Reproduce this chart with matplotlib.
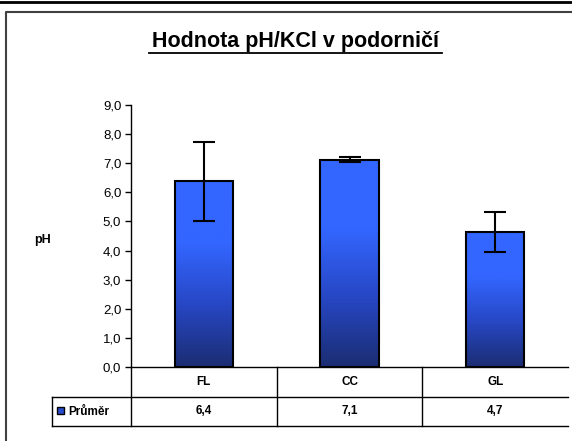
import numpy as np
import matplotlib.pyplot as plt
import matplotlib.transforms as mtransforms
from matplotlib.colors import LinearSegmentedColormap
from matplotlib.patches import Rectangle
from matplotlib.lines import Line2D

plt.rcParams['font.family'] = ['Liberation Sans', 'DejaVu Sans']

# data
categories = ["FL", "CC", "GL"]
means = [6.38, 7.12, 4.65]
errors = [1.35, 0.09, 0.69]
table_values = ["6,4", "7,1", "4,7"]
series_name = "Průměr"
yticks = [0, 1, 2, 3, 4, 5, 6, 7, 8, 9]

W, H = 572, 441
fig = plt.figure(figsize=(W / 100, H / 100), dpi=100)


def fx(x):
    return x / W


def fy(y):
    return 1 - y / H


# pixel layout of the plot area
left, right, top, bottom = 131, 568, 105, 367
ax = fig.add_axes([fx(left), fy(bottom), fx(right - left), (bottom - top) / H])

x = np.arange(len(categories))
width = 0.4
cmap = LinearSegmentedColormap.from_list("bar", ["#1b2d72", "#2747c4", "#3366ff", "#3366ff"])
grad = np.linspace(0, 1, 256).reshape(-1, 1)
for xi, m in zip(x, means):
    ax.imshow(grad, cmap=cmap, aspect="auto", origin="lower",
              extent=[xi - width / 2, xi + width / 2, 0, m], zorder=2)
    ax.add_patch(Rectangle((xi - width / 2, 0), width, m, fill=False,
                           edgecolor="black", linewidth=1.5, zorder=3))
ax.errorbar(x, means, yerr=errors, fmt="none", ecolor="black",
            elinewidth=1.5, capsize=8, capthick=1.5, zorder=4)

ax.set_xlim(-0.5, 2.5)
ax.set_ylim(0, 9)
ax.set_yticks(yticks)
ax.set_yticklabels([f"{v:.1f}".replace(".", ",") for v in yticks], fontsize=9.5)
ax.tick_params(axis="y", length=4, width=1, direction="out", pad=3)
ax.set_xticks([])
for s in ["top", "right", "bottom"]:
    ax.spines[s].set_visible(False)
ax.spines["left"].set_linewidth(1)

# title and y label
fig.text(fx(296), fy(42), "Hodnota pH/KCl v podorničí", ha="center", va="center",
         fontsize=15.5, fontweight="bold")
fig.add_artist(Line2D([fx(149), fx(442)], [fy(52.5), fy(52.5)], color="black", linewidth=1.3))
fig.text(fx(43), fy(240), "pH", ha="center", va="center", fontsize=9, fontweight="bold")

# data table below the plot
row1, row2, row3 = 367, 397, 426
line_kw = dict(color="black", linewidth=1)
fig.add_artist(Line2D([fx(left), fx(right)], [fy(row1), fy(row1)], **line_kw))
fig.add_artist(Line2D([fx(52), fx(right)], [fy(row2), fy(row2)], **line_kw))
fig.add_artist(Line2D([fx(52), fx(right)], [fy(row3), fy(row3)], **line_kw))
fig.add_artist(Line2D([fx(52), fx(52)], [fy(row2), fy(row3)], **line_kw))
fig.add_artist(Line2D([fx(left), fx(left)], [fy(row1), fy(row3)], **line_kw))

blend = mtransforms.blended_transform_factory(ax.transData, fig.transFigure)
for xi in x[:-1] + 0.5:
    ax.add_line(Line2D([xi, xi], [fy(row1), fy(row3)], transform=blend,
                       clip_on=False, **line_kw))
for xi, c, v in zip(x, categories, table_values):
    fig.text(xi, fy((row1 + row2) / 2), c, transform=blend, ha="center", va="center",
             fontsize=8.5, fontweight="bold")
    fig.text(xi, fy((row2 + row3) / 2), v, transform=blend, ha="center", va="center",
             fontsize=8.5, fontweight="bold")

fig.add_artist(Rectangle((fx(57), fy(414)), fx(7), 7 / H, facecolor="#2a4ccc",
                         edgecolor="black", linewidth=1))
fig.text(fx(68), fy(412), series_name, ha="left", va="center", fontsize=8.5,
         fontweight="bold")

# frames
fig.add_artist(Line2D([0, 1], [fy(1.5), fy(1.5)], color="black", linewidth=2))
fig.add_artist(Line2D([fx(6), fx(6), 1], [0, fy(11.5), fy(11.5)], color="#404040",
                      linewidth=1.5))

fig.savefig("out.png", dpi=100)
